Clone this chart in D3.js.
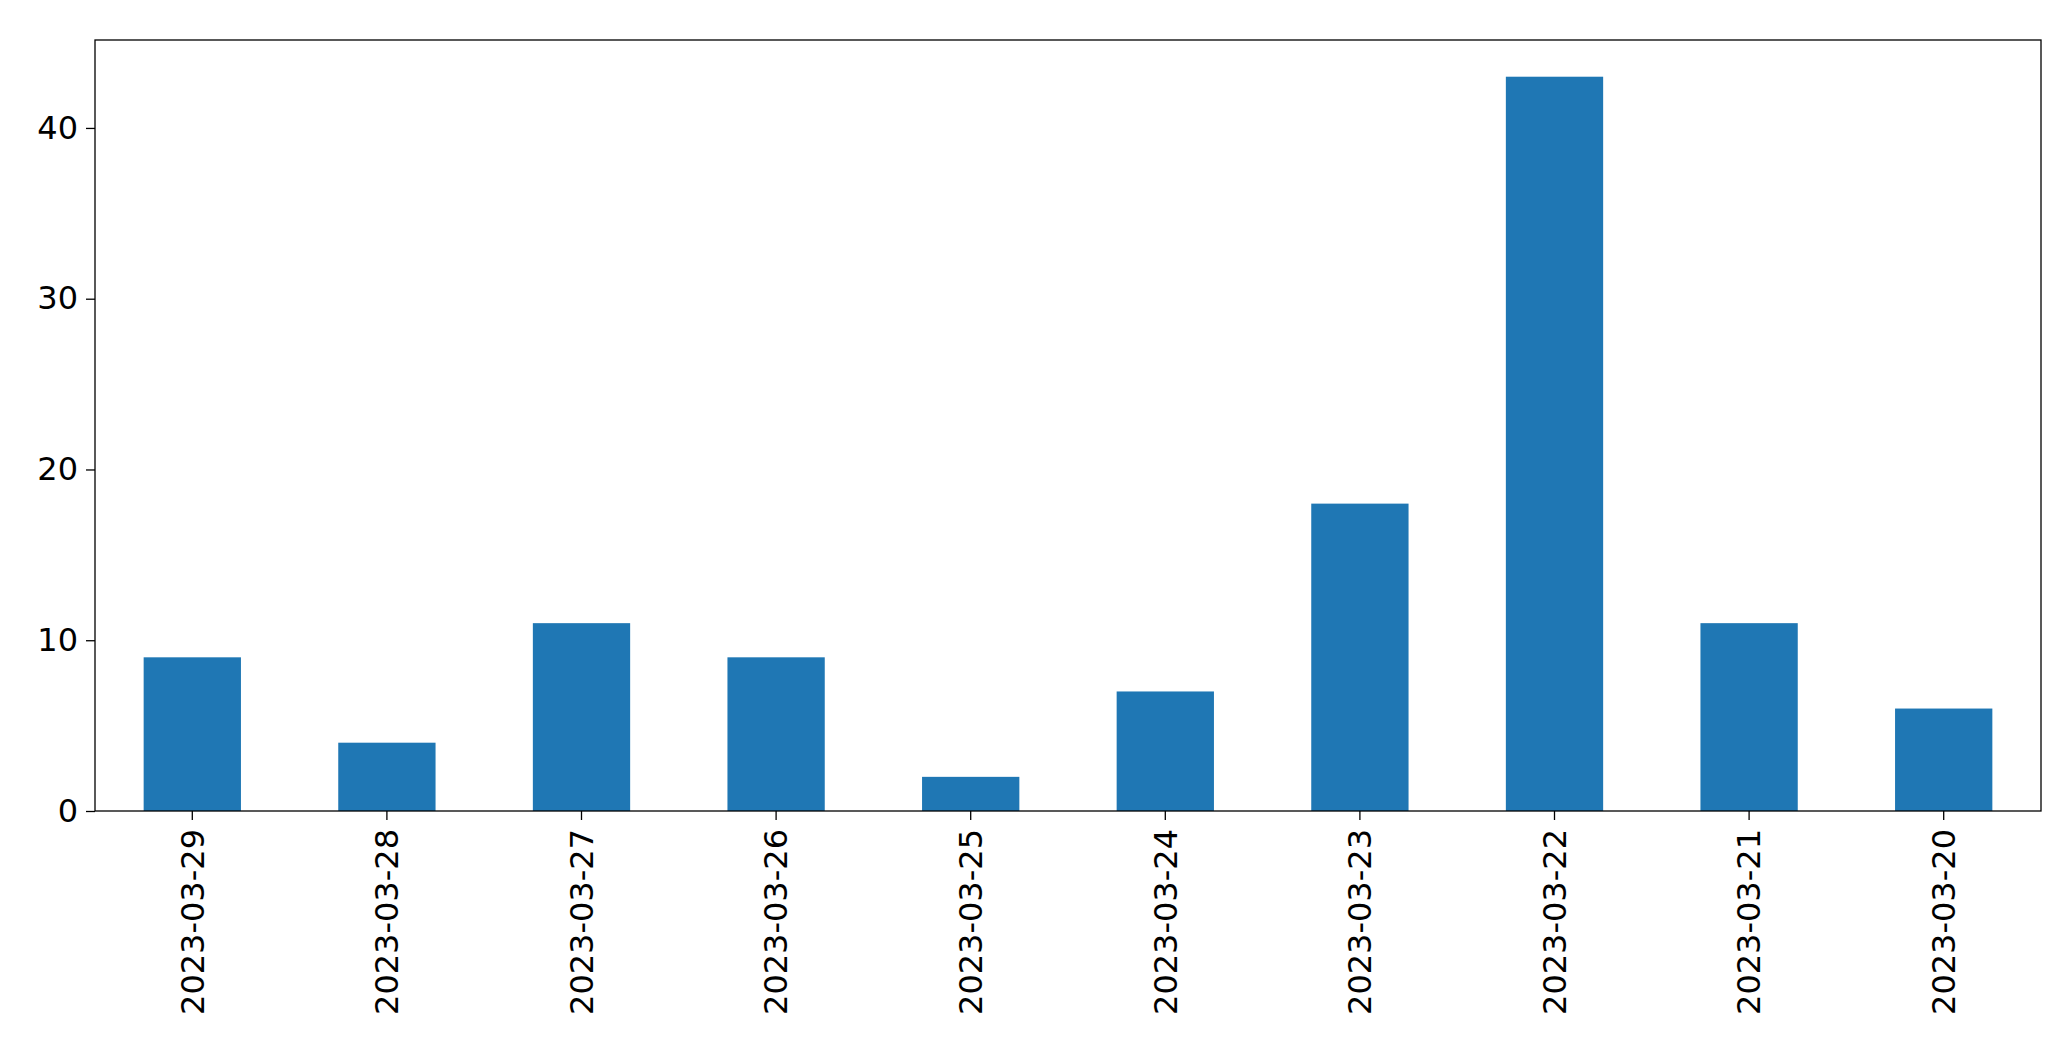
<!DOCTYPE html><html><head><meta charset="utf-8"><script src="https://cdn.jsdelivr.net/npm/d3@7"></script>
<style>body{margin:0;background:#fff}svg text{font-family:"DejaVu Sans";}</style></head><body><svg id="c" width="2071" height="1061"></svg><script>
const categories=["2023-03-29","2023-03-28","2023-03-27","2023-03-26","2023-03-25","2023-03-24","2023-03-23","2023-03-22","2023-03-21","2023-03-20"];
const values=[9,4,11,9,2,7,18,43,11,6];
const yTicks=[0,10,20,30,40];
const m={l:95,r:2041,t:40,b:811};
const svg=d3.select("#c");
const x=d3.scaleBand().domain(categories).range([m.l,m.r]).paddingInner(0.5).paddingOuter(0.25);
const y=d3.scaleLinear().domain([0,45.15]).range([m.b,m.t]);
svg.selectAll("rect.bar").data(values).join("rect").attr("class","bar")
 .attr("x",(d,i)=>x(categories[i])).attr("width",x.bandwidth())
 .attr("y",d=>y(d)).attr("height",d=>y(0)-y(d)).attr("fill","#1f77b4");
const gx=svg.append("g").attr("transform",`translate(0,${m.b})`).call(d3.axisBottom(x).tickSize(9).tickPadding(8));
gx.selectAll("text").attr("font-size",32).attr("transform","rotate(-90)").attr("text-anchor","end").attr("dx","-10").attr("dy","0.35em").attr("x",0).attr("y",0);
gx.selectAll("text").attr("transform",null).each(function(){d3.select(this).attr("transform","translate(0,18) rotate(-90)").attr("dx",0).attr("dy","0.35em")});
const gy=svg.append("g").attr("transform",`translate(${m.l},0)`).call(d3.axisLeft(y).tickValues(yTicks).tickSize(9).tickPadding(8));
gy.selectAll("text").attr("font-size",32);
[gx,gy].forEach(g=>{g.select(".domain").remove();g.selectAll("line").attr("stroke","#000").attr("stroke-width",1.3);g.selectAll("text").attr("fill","#000")});
svg.append("rect").attr("x",m.l).attr("y",m.t).attr("width",m.r-m.l).attr("height",m.b-m.t).attr("fill","none").attr("stroke","#000").attr("stroke-width",1.3);
</script></body></html>
